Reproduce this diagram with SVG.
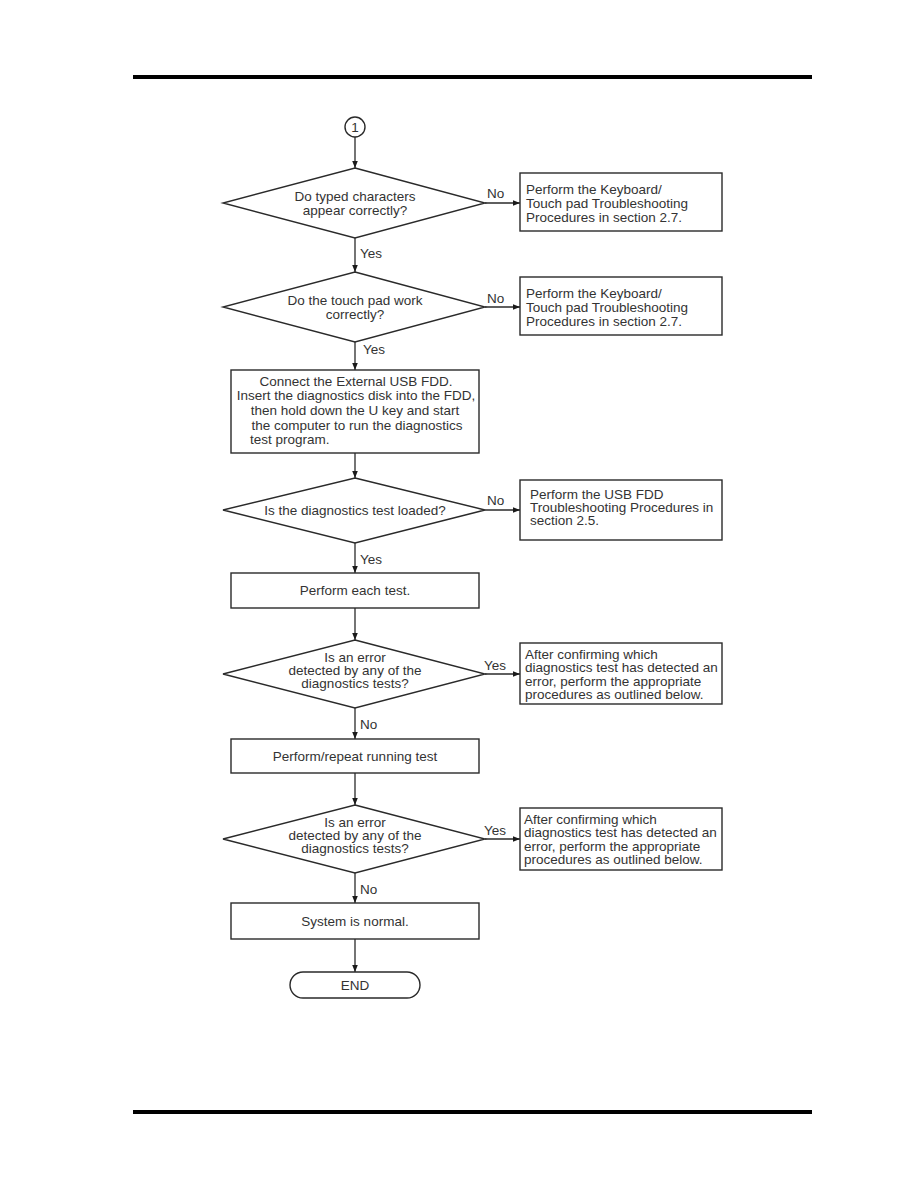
<svg xmlns="http://www.w3.org/2000/svg" width="918" height="1188" viewBox="0 0 918 1188">
<defs>
<marker id="ah" viewBox="0 0 10 10" refX="10" refY="5" markerWidth="7" markerHeight="7" orient="auto" markerUnits="userSpaceOnUse"><path d="M0,1 L10,5 L0,9 Z" fill="#1a1a1a"/></marker>
<style>
.s{fill:#fff;stroke:#2a2a2a;stroke-width:1.4}
.c{stroke:#2a2a2a;stroke-width:1.3;fill:none}
.t{font-family:"Liberation Sans",Arial,sans-serif;font-size:13.5px;fill:#333}
.m{text-anchor:middle}
.rule{stroke:#000;stroke-width:4}
</style>
</defs>
<rect width="918" height="1188" fill="#fff"/>
<line class="rule" x1="133" y1="77" x2="812" y2="77"/>
<line class="rule" x1="133" y1="1112" x2="812" y2="1112"/>

<g id="connectors">
<line class="c" x1="355" y1="137" x2="355" y2="168" marker-end="url(#ah)"/>
<line class="c" x1="485" y1="203" x2="520" y2="203" marker-end="url(#ah)"/>
<text class="t" x="487" y="198">No</text>
<line class="c" x1="355" y1="238" x2="355" y2="272" marker-end="url(#ah)"/>
<text class="t" x="360" y="258">Yes</text>
<line class="c" x1="485" y1="307" x2="520" y2="307" marker-end="url(#ah)"/>
<text class="t" x="487" y="303">No</text>
<line class="c" x1="355" y1="342" x2="355" y2="370" marker-end="url(#ah)"/>
<text class="t" x="363" y="354">Yes</text>
<line class="c" x1="355" y1="453" x2="355" y2="478" marker-end="url(#ah)"/>
<line class="c" x1="485" y1="510" x2="520" y2="510" marker-end="url(#ah)"/>
<text class="t" x="487" y="505">No</text>
<line class="c" x1="355" y1="543" x2="355" y2="573" marker-end="url(#ah)"/>
<text class="t" x="360" y="564">Yes</text>
<line class="c" x1="355" y1="608" x2="355" y2="640" marker-end="url(#ah)"/>
<line class="c" x1="485" y1="674" x2="520" y2="674" marker-end="url(#ah)"/>
<text class="t" x="484" y="670">Yes</text>
<line class="c" x1="355" y1="708" x2="355" y2="739" marker-end="url(#ah)"/>
<text class="t" x="360" y="729">No</text>
<line class="c" x1="355" y1="773" x2="355" y2="805" marker-end="url(#ah)"/>
<line class="c" x1="485" y1="839" x2="520" y2="839" marker-end="url(#ah)"/>
<text class="t" x="484" y="835">Yes</text>
<line class="c" x1="355" y1="873" x2="355" y2="903" marker-end="url(#ah)"/>
<text class="t" x="360" y="894">No</text>
<line class="c" x1="355" y1="939" x2="355" y2="972" marker-end="url(#ah)"/>
</g>

<g id="start">
<circle class="s" cx="355" cy="127" r="10"/>
<text class="t m" x="355" y="132">1</text>
</g>

<g id="d1">
<polygon class="s" points="355,168 485,203 355,238 223,203"/>
<text class="t m" x="355" y="201">Do typed characters</text>
<text class="t m" x="355" y="215">appear correctly?</text>
</g>
<g id="b1">
<rect class="s" x="520" y="173" width="202" height="58"/>
<text class="t" x="526" y="194">Perform the Keyboard/</text>
<text class="t" x="526" y="208">Touch pad Troubleshooting</text>
<text class="t" x="526" y="222">Procedures in section 2.7.</text>
</g>

<g id="d2">
<polygon class="s" points="355,272 485,307 355,342 223,307"/>
<text class="t m" x="355" y="305">Do the touch pad work</text>
<text class="t m" x="355" y="319">correctly?</text>
</g>
<g id="b2">
<rect class="s" x="520" y="277" width="202" height="58"/>
<text class="t" x="526" y="298">Perform the Keyboard/</text>
<text class="t" x="526" y="312">Touch pad Troubleshooting</text>
<text class="t" x="526" y="326">Procedures in section 2.7.</text>
</g>

<g id="b3">
<rect class="s" x="231" y="370" width="248" height="83"/>
<text class="t m" x="356" y="386">Connect the External USB FDD.</text>
<text class="t m" x="356" y="400">Insert the diagnostics disk into the FDD,</text>
<text class="t m" x="355" y="415">then hold down the U key and start</text>
<text class="t m" x="357" y="430">the computer to run the diagnostics</text>
<text class="t" x="250" y="444">test program.</text>
</g>

<g id="d3">
<polygon class="s" points="355,478 485,510 355,543 223,510"/>
<text class="t m" x="355" y="515">Is the diagnostics test loaded?</text>
</g>
<g id="b4">
<rect class="s" x="520" y="480" width="202" height="60"/>
<text class="t" x="530" y="499">Perform the USB FDD</text>
<text class="t" x="530" y="512">Troubleshooting Procedures in</text>
<text class="t" x="530" y="525">section 2.5.</text>
</g>

<g id="b5">
<rect class="s" x="231" y="573" width="248" height="35"/>
<text class="t m" x="355" y="595">Perform each test.</text>
</g>

<g id="d4">
<polygon class="s" points="355,640 485,674 355,708 223,674"/>
<text class="t m" x="355" y="662">Is an error</text>
<text class="t m" x="355" y="675">detected by any of the</text>
<text class="t m" x="355" y="688">diagnostics tests?</text>
</g>
<g id="b6">
<rect class="s" x="520" y="643" width="202" height="61"/>
<text class="t" x="525" y="659">After confirming which</text>
<text class="t" x="525" y="672">diagnostics test has detected an</text>
<text class="t" x="525" y="686">error, perform the appropriate</text>
<text class="t" x="525" y="699">procedures as outlined below.</text>
</g>

<g id="b7">
<rect class="s" x="231" y="739" width="248" height="34"/>
<text class="t m" x="355" y="761">Perform/repeat running test</text>
</g>

<g id="d5">
<polygon class="s" points="355,805 485,839 355,873 223,839"/>
<text class="t m" x="355" y="827">Is an error</text>
<text class="t m" x="355" y="840">detected by any of the</text>
<text class="t m" x="355" y="853">diagnostics tests?</text>
</g>
<g id="b8">
<rect class="s" x="520" y="808" width="202" height="62"/>
<text class="t" x="524" y="824">After confirming which</text>
<text class="t" x="524" y="837">diagnostics test has detected an</text>
<text class="t" x="524" y="851">error, perform the appropriate</text>
<text class="t" x="524" y="864">procedures as outlined below.</text>
</g>

<g id="b9">
<rect class="s" x="231" y="903" width="248" height="36"/>
<text class="t m" x="355" y="926">System is normal.</text>
</g>

<g id="end">
<rect class="s" x="290" y="972" width="130" height="26" rx="13" ry="13"/>
<text class="t m" x="355" y="990">END</text>
</g>
</svg>
